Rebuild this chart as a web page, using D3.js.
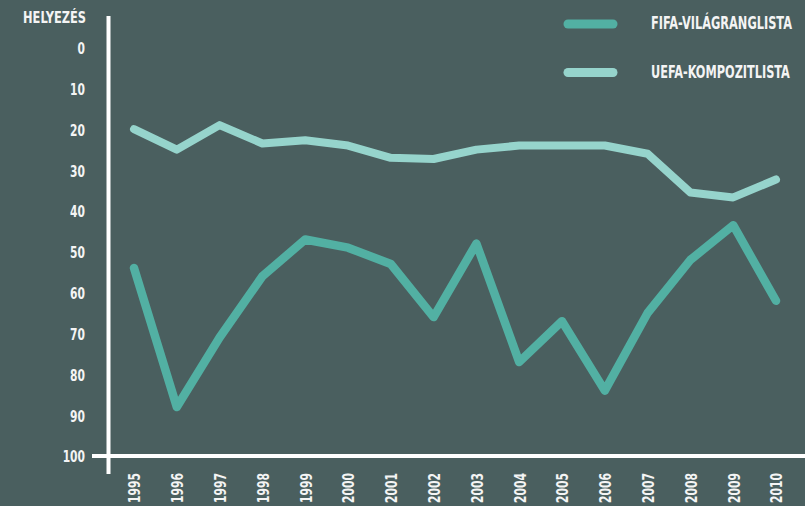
<!DOCTYPE html>
<html>
<head>
<meta charset="utf-8">
<script src="https://cdn.jsdelivr.net/npm/d3@7"></script>
<style>
  html, body { margin: 0; padding: 0; background: #4a5f5f; }
  svg { display: block; }
  text { font-family: "Liberation Sans Narrow", "DejaVu Sans Condensed", "Roboto Condensed", sans-serif; font-weight: bold; fill: #f4f4f4; }
</style>
</head>
<body>
<svg id="chart" width="805" height="506"></svg>
<script>
const years = ["1995","1996","1997","1998","1999","2000","2001","2002","2003","2004","2005","2006","2007","2008","2009","2010"];
const fifaValues = [54, 88, 71, 56, 47, 49, 53, 66, 48, 77, 67, 84, 65, 52, 43.5, 62];
const uefaValues = [20, 25, 19, 23.5, 22.7, 24, 27, 27.3, 25, 24, 24, 24, 26, 35.5, 36.7, 32.3];
const yTicks = [0, 10, 20, 30, 40, 50, 60, 70, 80, 90, 100];
const seriesNames = ["FIFA-VILÁGRANGLISTA", "UEFA-KOMPOZITLISTA"];
const seriesColors = ["#52b0a3", "#96d4cc"];
const yTitle = "HELYEZÉS";

const svg = d3.select("#chart");
const W = 805, H = 506;

const x = d3.scalePoint().domain(years).range([134, 776]);
const y = d3.scaleLinear().domain([0, 100]).range([47.5, 456]);

// horizontally squeeze a text so it has the given width (condensed look)
function squeeze(node, targetW, prefix) {
  const w = node.getComputedTextLength();
  const s = w > 0 ? targetW / w : 1;
  node.setAttribute("transform", (prefix || "") + " scale(" + s + ",1)");
}

// Y axis ticks
const yAxis = d3.axisLeft(y).tickValues(yTicks).tickSize(0).tickPadding(0);
const gy = svg.append("g").attr("transform", "translate(85,0)").call(yAxis);
gy.select(".domain").remove();
gy.selectAll("text")
  .attr("font-size", 16.5)
  .attr("x", 0)
  .attr("dy", "0.36em")
  .each(function(d) { squeeze(this, String(d).length * 7.45, ""); });

// X axis ticks (rotated)
const xAxis = d3.axisBottom(x).tickSize(0).tickPadding(0);
const gx = svg.append("g").attr("transform", "translate(0,473)").call(xAxis);
gx.select(".domain").remove();
gx.selectAll("text")
  .attr("font-size", 16.5)
  .attr("text-anchor", "end")
  .attr("x", 0)
  .attr("y", 0)
  .attr("dy", "0.36em")
  .each(function() { squeeze(this, 30, "rotate(-90)"); });
svg.selectAll("g.tick text").attr("font-family", null);

// Axis lines
svg.append("line").attr("x1", 108.5).attr("x2", 108.5).attr("y1", 16).attr("y2", 474)
  .attr("stroke", "#ffffff").attr("stroke-width", 4);
svg.append("line").attr("x1", 92).attr("x2", W).attr("y1", y(100)).attr("y2", y(100))
  .attr("stroke", "#ffffff").attr("stroke-width", 4);

// Y title
svg.append("text").attr("dy", "0.36em")
  .attr("text-anchor", "end").attr("font-size", 16.5)
  .text(yTitle)
  .each(function() { squeeze(this, 63, "translate(86,17.5)"); });

// Lines
const line = d3.line().x((d, i) => x(years[i])).y(d => y(d));
[fifaValues, uefaValues].forEach((vals, k) => {
  svg.append("path").datum(vals)
    .attr("d", line)
    .attr("fill", "none")
    .attr("stroke", seriesColors[k])
    .attr("stroke-width", k === 0 ? 8.5 : 8)
    .attr("stroke-linejoin", "round")
    .attr("stroke-linecap", "round");
});

// Legend
const legendY = [24, 72.5];
const legendTextLen = [141, 139];
seriesNames.forEach((name, k) => {
  svg.append("line").attr("x1", 568).attr("x2", 613)
    .attr("y1", legendY[k]).attr("y2", legendY[k])
    .attr("stroke", seriesColors[k]).attr("stroke-width", 9)
    .attr("stroke-linecap", "round");
  svg.append("text").attr("dy", "0.36em")
    .attr("font-size", 18)
    .text(name)
    .each(function() { squeeze(this, legendTextLen[k], "translate(651," + (legendY[k] - 1) + ")"); });
});
</script>
</body>
</html>
